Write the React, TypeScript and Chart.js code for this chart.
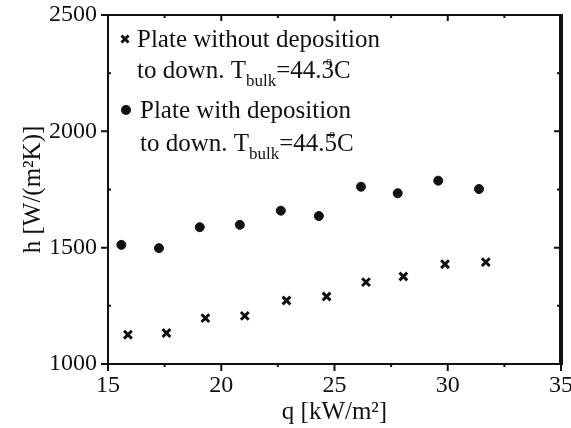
import React, { useEffect, useRef } from "react";
import { Chart, registerables } from "chart.js";

Chart.register(...registerables);

const qWithout = [15.88, 17.58, 19.3, 21.04, 22.88, 24.65, 26.39, 28.04, 29.88, 31.68];
const hWithout = [1126, 1133, 1197, 1207, 1273, 1290, 1352, 1376, 1429, 1438];
const qWith = [15.59, 17.25, 19.05, 20.82, 22.63, 24.31, 26.17, 27.79, 29.58, 31.38];
const hWith = [1512, 1498, 1588, 1598, 1659, 1636, 1762, 1734, 1788, 1752];

const xMajorTicks = [15, 20, 25, 30, 35];
const xMinorTicks = [17.5, 22.5, 27.5, 32.5];
const yMajorTicks = [1000, 1500, 2000, 2500];
const yMinorTicks = [1250, 1750, 2250];

const serif = "'Liberation Serif', 'DejaVu Serif', serif";

const framePlugin = {
  id: "frame",
  afterDraw(chart: any) {
    const { ctx, chartArea, scales } = chart;
    const { left, right, top, bottom } = chartArea;
    const xs = scales.x;
    const ys = scales.y;
    ctx.save();
    ctx.strokeStyle = "#111";
    ctx.lineCap = "butt";
    // frame
    ctx.lineWidth = 2;
    ctx.beginPath();
    ctx.moveTo(left, top);
    ctx.lineTo(left, bottom + 1);
    ctx.moveTo(left - 1, bottom);
    ctx.lineTo(right, bottom);
    ctx.moveTo(left - 1, top);
    ctx.lineTo(right, top);
    ctx.stroke();
    ctx.lineWidth = 4;
    ctx.beginPath();
    ctx.moveTo(right, top - 1);
    ctx.lineTo(right, bottom + 1);
    ctx.stroke();
    // ticks
    ctx.lineWidth = 2;
    ctx.beginPath();
    for (const v of yMajorTicks) {
      const y = ys.getPixelForValue(v);
      ctx.moveTo(left - 7, y);
      ctx.lineTo(left, y);
      ctx.moveTo(right - 7, y);
      ctx.lineTo(right, y);
    }
    for (const v of yMinorTicks) {
      const y = ys.getPixelForValue(v);
      ctx.moveTo(left, y);
      ctx.lineTo(left + 3, y);
      ctx.moveTo(right - 4, y);
      ctx.lineTo(right, y);
    }
    for (const v of xMajorTicks) {
      const x = xs.getPixelForValue(v);
      ctx.moveTo(x, bottom);
      ctx.lineTo(x, bottom + 7);
      ctx.moveTo(x, top);
      ctx.lineTo(x, top + 6);
    }
    for (const v of xMinorTicks) {
      const x = xs.getPixelForValue(v);
      ctx.moveTo(x, bottom);
      ctx.lineTo(x, bottom + 3);
      ctx.moveTo(x, top);
      ctx.lineTo(x, top + 3);
    }
    ctx.stroke();

    // legend
    const fs = 25;
    const sub = 17;
    const drawLine = (x: number, y: number, t1: string, t2: string) => {
      ctx.fillStyle = "#111";
      ctx.textBaseline = "alphabetic";
      ctx.textAlign = "left";
      ctx.font = `${fs}px ${serif}`;
      ctx.fillText(t1, x, y);
      let cx = x + ctx.measureText(t1).width;
      ctx.font = `${sub}px ${serif}`;
      ctx.fillText("bulk", cx, y + 8);
      cx += ctx.measureText("bulk").width;
      ctx.font = `${fs}px ${serif}`;
      ctx.fillText(t2, cx, y);
      cx += ctx.measureText(t2).width;
      ctx.font = `${12}px ${serif}`;
      ctx.fillText("o", cx - 8, y - 13);
      ctx.font = `${fs}px ${serif}`;
      ctx.fillText("C", cx, y);
    };
    ctx.fillStyle = "#111";
    ctx.font = `${fs}px ${serif}`;
    ctx.textBaseline = "alphabetic";
    ctx.textAlign = "left";
    ctx.fillText("Plate without deposition", 137, 47);
    drawLine(137, 78, "to down. T", "=44.3");
    ctx.fillText("Plate with deposition", 140, 118);
    drawLine(140, 151, "to down. T", "=44.5");
    // markers
    ctx.lineWidth = 3;
    ctx.beginPath();
    const mx = 125, my = 39, r = 3.5;
    ctx.moveTo(mx - r, my - r);
    ctx.lineTo(mx + r, my + r);
    ctx.moveTo(mx + r, my - r);
    ctx.lineTo(mx - r, my + r);
    ctx.stroke();
    ctx.beginPath();
    ctx.arc(126, 110, 5, 0, Math.PI * 2);
    ctx.fill();
    ctx.restore();
  },
};

export default function App() {
  const ref = useRef<HTMLCanvasElement>(null);
  useEffect(() => {
    document.body.style.margin = "0";
    const canvas = ref.current!;
    const chart = new Chart(canvas, {
      type: "scatter",
      data: {
        datasets: [
          {
            label: "Plate without deposition",
            data: qWithout.map((q, i) => ({ x: q, y: hWithout[i] })),
            pointStyle: "crossRot",
            pointRadius: 5.5,
            pointBorderWidth: 3,
            borderColor: "#111",
            backgroundColor: "#111",
          },
          {
            label: "Plate with deposition",
            data: qWith.map((q, i) => ({ x: q, y: hWith[i] })),
            pointStyle: "circle",
            pointRadius: 4.5,
            pointBorderWidth: 1,
            borderColor: "#111",
            backgroundColor: "#111",
          },
        ],
      },
      options: {
        animation: false,
        responsive: false,
        layout: { padding: { top: 15, right: 10, left: 0, bottom: 0 } },
        plugins: { legend: { display: false }, tooltip: { enabled: false } },
        scales: {
          x: {
            type: "linear",
            min: 15,
            max: 35,
            afterFit: (s: any) => {
              s.height = 64;
              s.paddingLeft = 0;
              s.paddingRight = 0;
            },
            border: { display: false },
            grid: { display: false, drawTicks: false },
            ticks: {
              stepSize: 5,
              padding: 7,
              color: "#111",
              font: { family: serif, size: 24 },
              callback: (v: any) => String(v),
            },
            title: {
              display: true,
              text: "q [kW/m²]",
              color: "#111",
              font: { family: serif, size: 25 },
              padding: { top: 0, bottom: 1 },
            },
          },
          y: {
            type: "linear",
            min: 1000,
            max: 2500,
            afterFit: (s: any) => {
              s.width = 108;
              s.paddingTop = 0;
              s.paddingBottom = 0;
            },
            border: { display: false },
            grid: { display: false, drawTicks: false },
            ticks: {
              stepSize: 500,
              padding: 11,
              color: "#111",
              font: { family: serif, size: 24 },
              callback: (v: any) => String(v),
            },
            title: {
              display: true,
              text: "h [W/(m²K)]",
              color: "#111",
              font: { family: serif, size: 25 },
              padding: { top: 18, bottom: 0 },
            },
          },
        },
      },
      plugins: [framePlugin],
    });
    return () => chart.destroy();
  }, []);
  return (
    <div style={{ width: 571, height: 428 }}>
      <canvas ref={ref} width={571} height={428} style={{ width: 571, height: 428, display: "block" }} />
    </div>
  );
}
